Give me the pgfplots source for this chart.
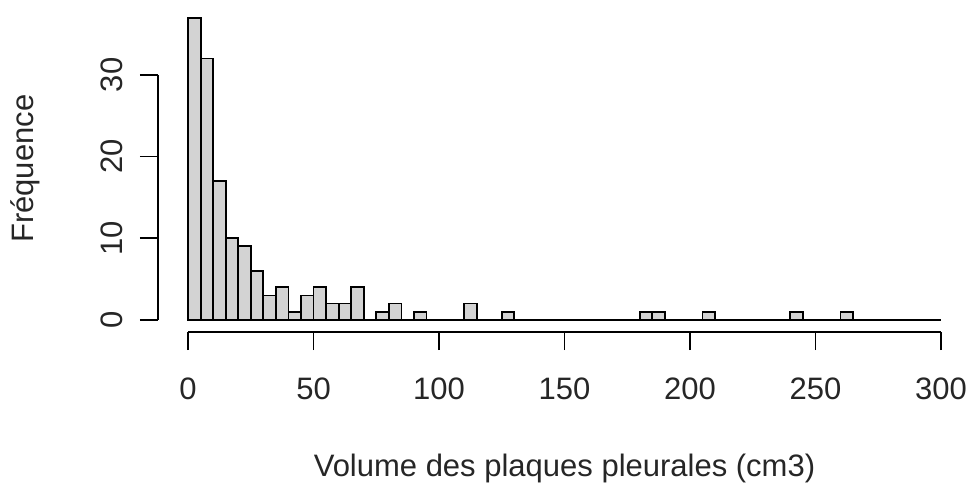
\documentclass[border=0pt]{standalone}
\usepackage{fontspec}
\setmainfont{Liberation Sans}
\usepackage{pgfplots}
\pgfplotsset{compat=1.18}
\definecolor{histgray}{HTML}{D3D3D3}

\begin{document}
\begin{tikzpicture}[x=1pt,y=1pt]
\useasboundingbox (0,0) rectangle (971,490);
\begin{axis}[
  at={(158pt,158pt)}, anchor=south west,
  scale only axis, width=813pt, height=326.4pt,
  xmin=-12, xmax=312, ymin=-1.48, ymax=38.48,
  axis x line*=bottom, axis y line*=left,
  axis line style={draw=none},
  xtick={0,50,...,300}, ytick={0,10,20,30},
  tick align=outside, major tick length=18pt,
  every tick/.style={black, line width=1.8pt},
  /pgf/number format/assume math mode=true,
  tick label style={font=\fontsize{31}{36}\selectfont, text=black!85},
  xticklabel style={anchor=center, yshift=-39pt},
  yticklabel style={rotate=90, anchor=center, yshift=28pt},
  xlabel={Volume des plaques pleurales (cm3)},
  ylabel={Fréquence},
  every axis x label/.style={at={(axis description cs:0.5,0)}, anchor=center,
    yshift=-136pt, font=\fontsize{31}{36}\selectfont, text=black!85},
  every axis y label/.style={at={(axis description cs:0,0.5)}, anchor=center,
    rotate=90, yshift=133pt, font=\fontsize{31}{36}\selectfont, text=black!85},
  clip=false,
]
\addplot[ybar interval, fill=histgray, draw=black, line width=1.8pt] coordinates {
  (0,37) (5,32) (10,17) (15,10) (20,9) (25,6) (30,3) (35,4) (40,1) (45,3)
  (50,4) (55,2) (60,2) (65,4) (70,0) (75,1) (80,2) (85,0) (90,1) (95,0)
  (100,0) (105,0) (110,2) (115,0) (120,0) (125,1) (130,0) (135,0) (140,0) (145,0)
  (150,0) (155,0) (160,0) (165,0) (170,0) (175,0) (180,1) (185,1) (190,0) (195,0)
  (200,0) (205,1) (210,0) (215,0) (220,0) (225,0) (230,0) (235,0) (240,1) (245,0)
  (250,0) (255,0) (260,1) (265,0) (270,0) (275,0) (280,0) (285,0) (290,0) (295,0)
  (300,0)
};
\draw[black, line width=1.8pt] (axis cs:0,-1.48) -- (axis cs:300,-1.48);
\draw[black, line width=1.8pt] (axis cs:-12,0) -- (axis cs:-12,30);
\end{axis}
\end{tikzpicture}
\end{document}
